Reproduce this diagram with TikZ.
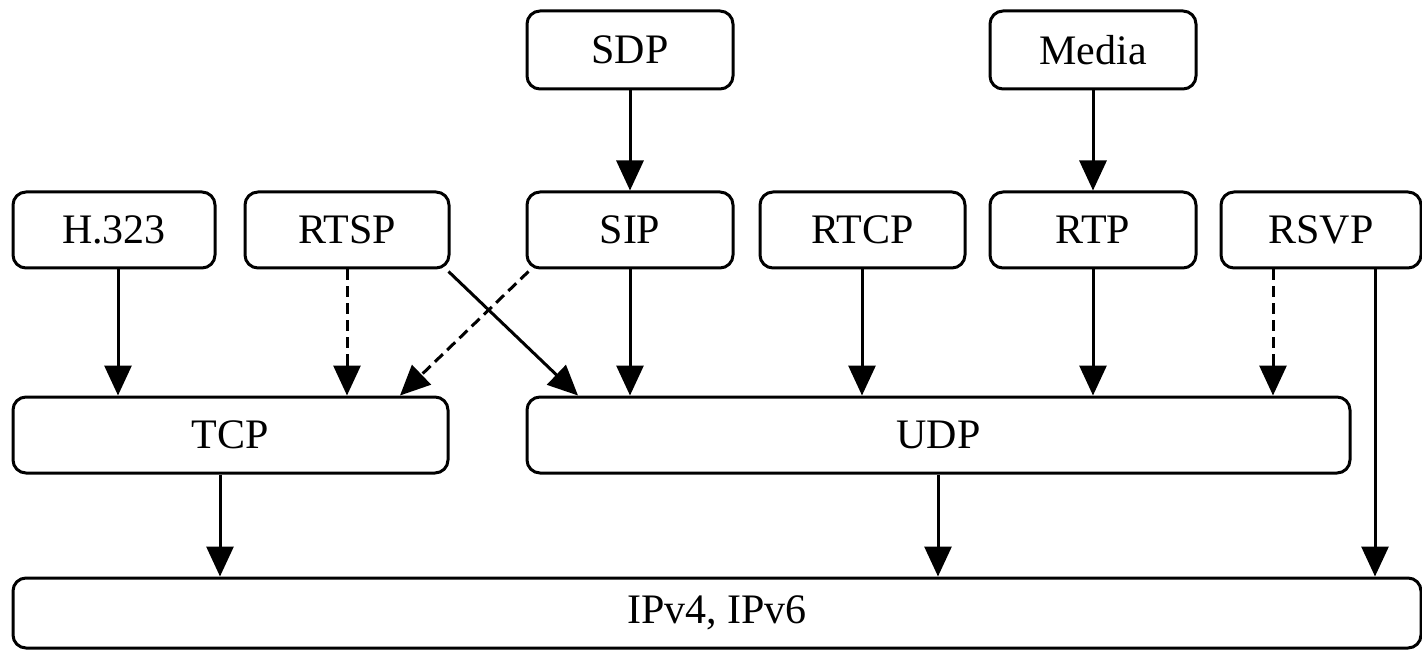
\documentclass[tikz,border=0pt]{standalone}
\usepackage{fontspec}
\setmainfont{Liberation Serif}
\usetikzlibrary{arrows.meta}
\begin{document}
\begin{tikzpicture}[x=1pt,y=-1pt,
  box/.style={draw,line width=3pt,rounded corners=13pt,inner sep=0pt,anchor=center,
    font=\fontsize{42}{46}\selectfont},
  arr/.style={line width=3pt,-{Triangle[length=30pt,width=27pt]}},
  dsh/.style={arr,dash pattern=on 11pt off 6pt}]
\useasboundingbox (0,0) rectangle (1422,652);
\node[box,minimum width=206pt,minimum height=78pt] (sdp) at (630,50) {SDP};
\node[box,minimum width=206pt,minimum height=78pt] (media) at (1093,50) {Media};
\node[box,minimum width=202pt,minimum height=76pt] (h323) at (114,230) {H.323};
\node[box,minimum width=204pt,minimum height=76pt] (rtsp) at (347,230) {RTSP};
\node[box,minimum width=206pt,minimum height=76pt] (sip) at (630,230) {SIP};
\node[box,minimum width=205pt,minimum height=76pt] (rtcp) at (862.5,230) {RTCP};
\node[box,minimum width=206pt,minimum height=76pt] (rtp) at (1093,230) {RTP};
\node[box,minimum width=200pt,minimum height=76pt] (rsvp) at (1321,230) {RSVP};
\node[box,minimum width=435pt,minimum height=76pt] (tcp) at (230.5,435) {TCP};
\node[box,minimum width=823pt,minimum height=76pt] (udp) at (938.5,435) {UDP};
\node[box,minimum width=1408pt,minimum height=70pt] (ip) at (717,613) {IPv4, IPv6};
\draw[arr] (sdp.south) -- (sip.north);
\draw[arr] (media.south) -- (rtp.north);
\draw[arr] (h323.south -| 118,0) -- (tcp.north -| 118,0);
\draw[dsh] (rtsp.south -| 347,0) -- (tcp.north -| 347,0);
\draw[arr] (sip.south) -- (udp.north -| sip.south);
\draw[arr] (rtcp.south -| 862,0) -- (udp.north -| 862,0);
\draw[arr] (rtp.south) -- (udp.north -| rtp.south);
\draw[dsh] (rsvp.south -| 1273,0) -- (udp.north -| 1273,0);
\draw[arr] (rsvp.south -| 1375,0) -- (ip.north -| 1375,0);
\draw[arr] (tcp.south -| 220,0) -- (ip.north -| 220,0);
\draw[arr] (udp.south -| 938,0) -- (ip.north -| 938,0);
\coordinate (rtspc) at ([xshift=-2pt,yshift=-2pt]rtsp.south east);
\coordinate (sipc) at ([xshift=3pt,yshift=-2pt]sip.south west);
\draw[arr] (rtspc) -- (udp.north -| 578,0);
\draw[dsh] (sipc) -- (tcp.north -| 400,0);
\end{tikzpicture}
\end{document}
